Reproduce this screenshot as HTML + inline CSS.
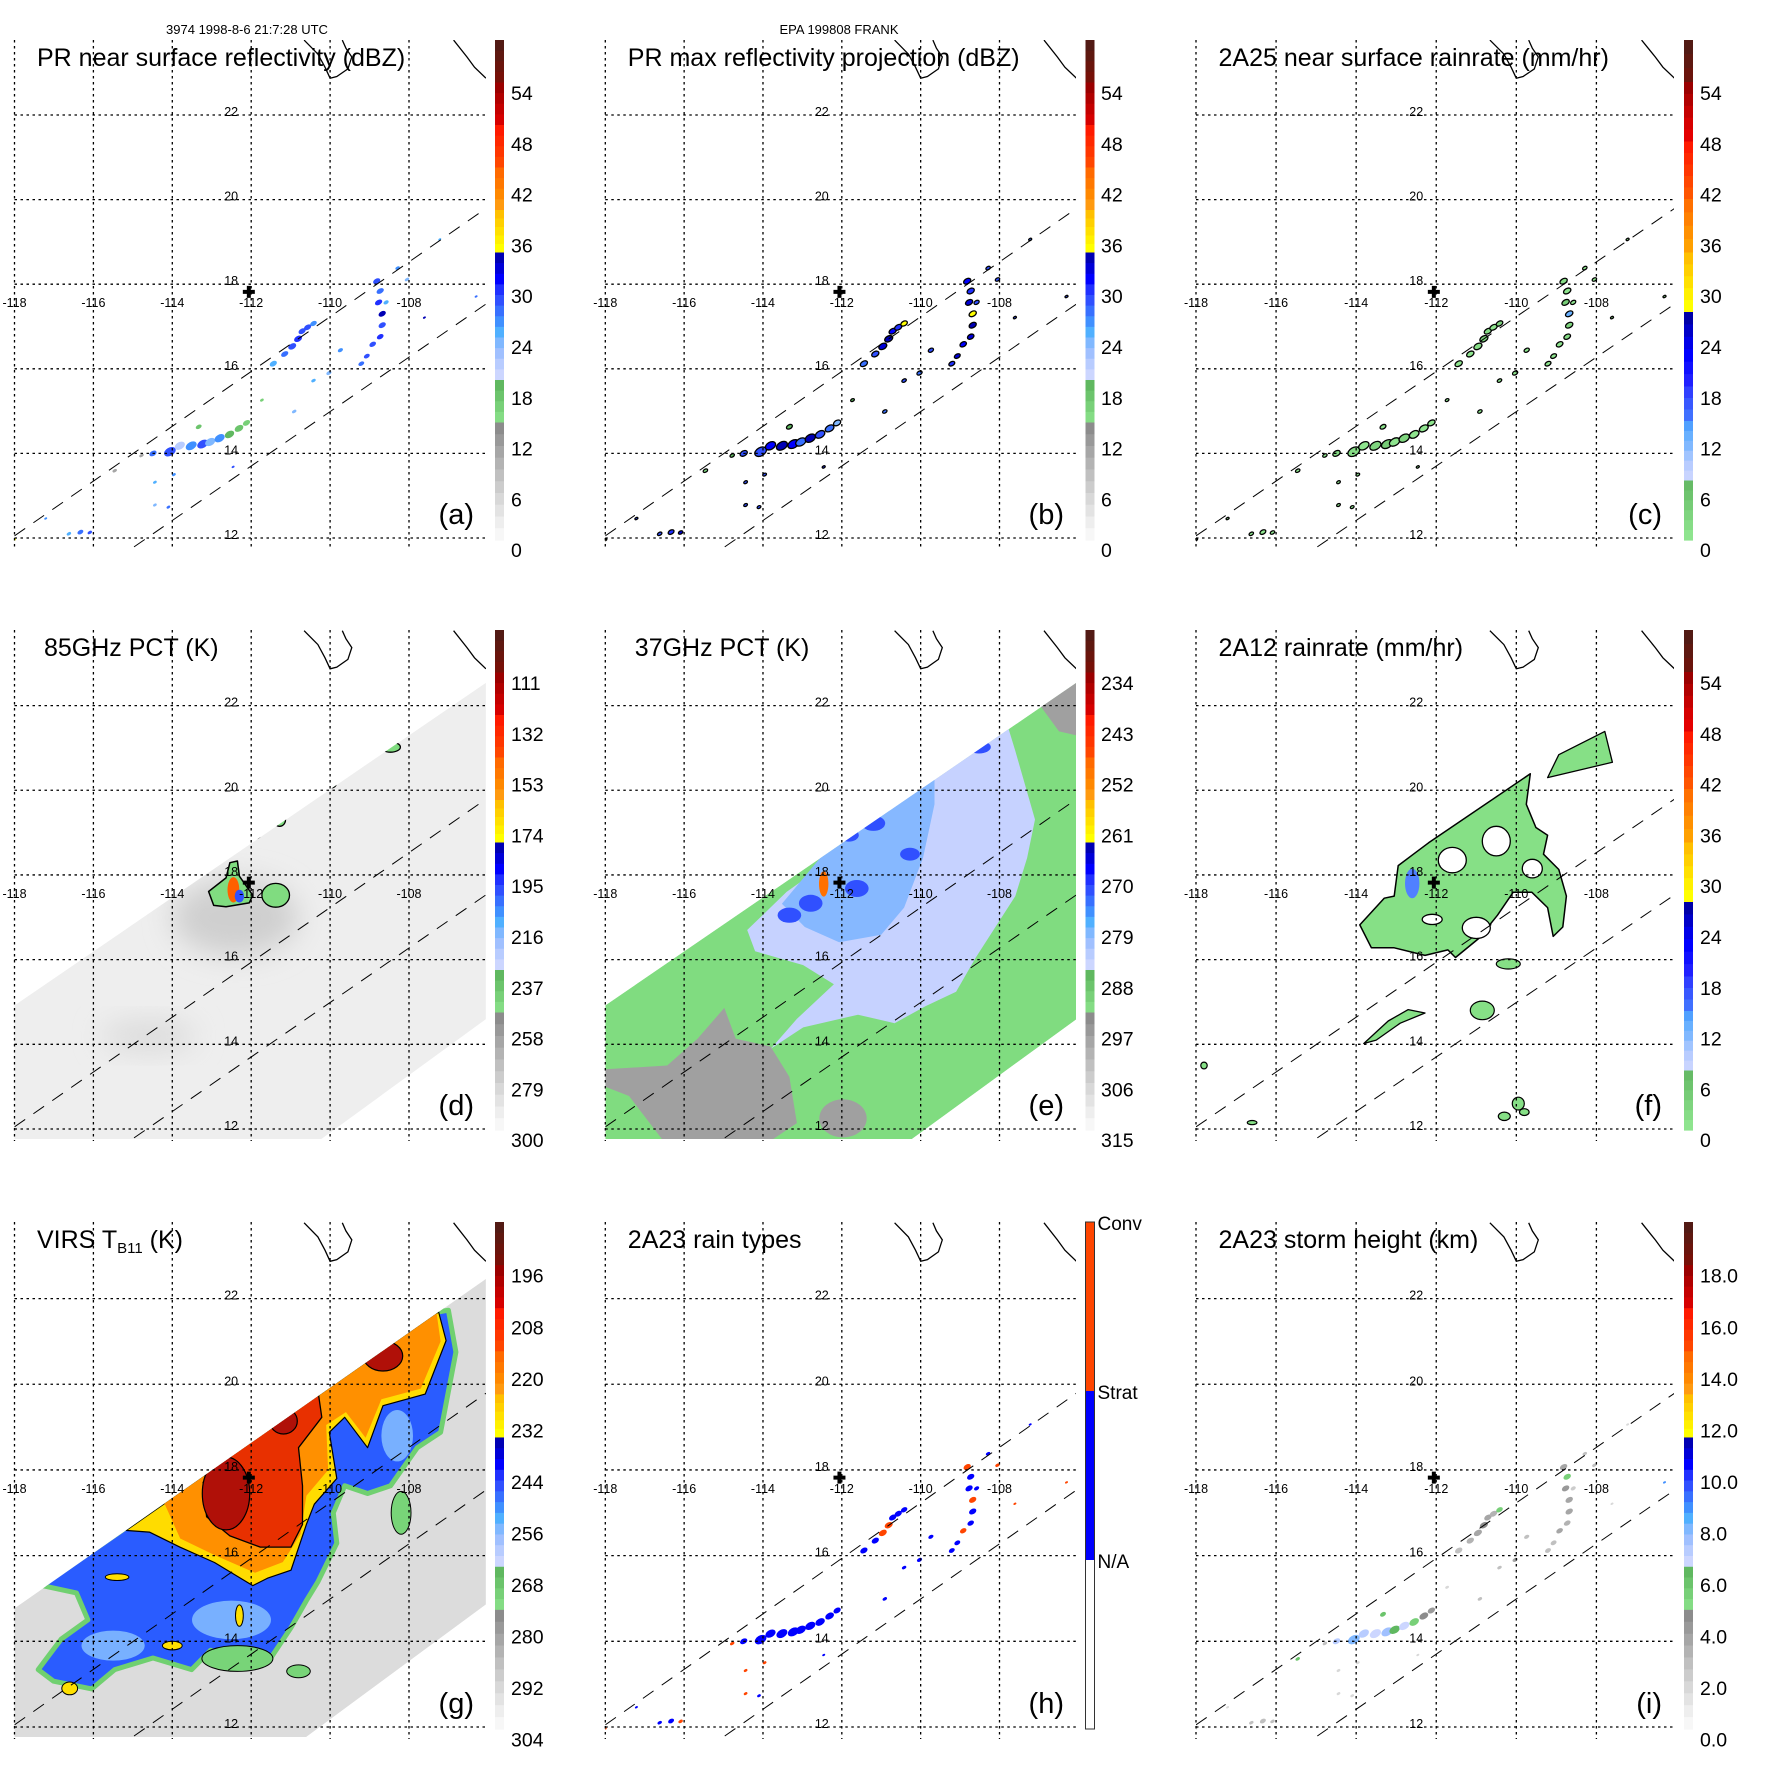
<!DOCTYPE html>
<html><head><meta charset="utf-8"><title>EPA 199808 FRANK</title>
<style>
html,body{margin:0;padding:0;background:#fff;}
svg{display:block;font-family:"Liberation Sans",Arial,sans-serif;}
</style></head>
<body>
<svg id="fig" xmlns="http://www.w3.org/2000/svg" width="1771" height="1771" viewBox="0 0 1771 1771">
<rect x="0" y="0" width="1771" height="1771" fill="#fff"/>
<defs><filter id="soft" x="-50%" y="-50%" width="200%" height="200%"><feGaussianBlur stdDeviation="14"/></filter></defs>
<text x="247" y="34" font-size="13" text-anchor="middle">3974 1998-8-6 21:7:28 UTC</text>
<text x="839" y="34" font-size="13" text-anchor="middle">EPA 199808 FRANK</text>
</svg>
<script>
// ---------- data ----------
const lonTicks=[-118,-116,-114,-112,-110,-108];
const latTicks=[12,14,16,18,20,22];
const dbzLabels=['54','48','42','36','30','24','18','12','6','0'];
const rainLabels=['54','48','42','36','30','24','18','12','6','0'];
const pct85Labels=['111','132','153','174','195','216','237','258','279','300'];
const pct37Labels=['234','243','252','261','270','279','288','297','306','315'];
const virsLabels=['196','208','220','232','244','256','268','280','292','304'];
const htLabels=['18.0','16.0','14.0','12.0','10.0','8.0','6.0','4.0','2.0','0.0'];
const typeLabels=['Conv','Strat','N/A'];

const cellLon=[-114.06,-113.81,-113.52,-113.23,-113.04,-112.80,-112.55,-112.31,-112.12,-114.49,-114.78,
-111.44,-111.15,-110.96,-110.81,-110.71,-110.57,-110.42,
-108.82,-108.73,-108.77,-108.68,-108.68,-108.73,-108.92,-109.07,-109.21,-108.58,
-108.05,-108.29,
-109.74,-110.03,-110.42,-110.91,
-112.46,-114.44,-114.44,-114.10,-113.96,
-116.33,-116.62,-116.09,-117.21,-118.0,
-107.22,-106.30,-107.61,
-115.46,-113.33,-111.73];
const cellLat=[14.04,14.18,14.18,14.22,14.27,14.36,14.45,14.59,14.72,14.0,13.95,
16.12,16.35,16.53,16.71,16.89,16.98,17.07,
18.07,17.84,17.57,17.30,17.03,16.76,16.58,16.30,16.12,17.57,
18.11,18.38,
16.44,15.90,15.72,14.99,
13.68,13.32,12.78,12.73,13.50,
12.14,12.10,12.13,12.46,11.96,
19.06,17.71,17.21,
13.59,14.63,15.26];
const cellSize=[0.16,0.14,0.15,0.15,0.14,0.14,0.13,0.12,0.1,0.1,0.06, 0.1,0.1,0.11,0.11,0.1,0.1,0.09, 0.1,0.1,0.1,0.1,0.1,0.09,0.09,0.08,0.08,0.07, 0.06,0.06, 0.07,0.07,0.06,0.06, 0.04,0.05,0.05,0.05,0.05, 0.08,0.06,0.06,0.04,0.04, 0.04,0.04,0.04, 0.06,0.08,0.05];
const reflNS=[30,22,27,30,24,27,20,18,17,28,12, 26,28,30,31,30,29,27, 30,28,31,34,30,31,30,29,28,26, 25,27, 27,24,26,25, 30,26,25,28,27, 28,26,30,27,36, 26,28,34, 12,18,17];
const reflMax=[30,32,34,32,28,35,30,28,24,30,20, 28,30,33,34,32,31,36, 32,31,33,36,34,33,32,33,31,30, 29,30, 29,28,29,28, 31,30,29,30,29, 31,30,33,30,36, 28,29,30, 16,20,19];
const rainPR=[3,2,4,5,2,4,1,1,1,3,0.5, 1,2,3,4,3,2,4, 3,2,5,14,4,3,2,2,1,1, 1,2, 2,1,1,1, 1,1,1,1,1, 1,1,1,1,2, 1,1,1, 0.5,1,0.5];
const rainType=[1,1,1,1,1,1,1,1,1,1,2, 1,1,2,2,1,1,1, 2,1,1,2,1,1,2,1,1,1, 2,1, 1,1,1,1, 1,2,2,1,2, 1,1,2,1,2, 1,2,2, 0,0,0];
const stormHt=[8,7.5,7,7.8,6.5,7,5.5,5,4.5,7.5,3, 3,3.5,4,5,4,3.5,5.5, 4,5.5,4.5,4,4,3.5,4,3,3,2.5, 3,3, 3,4,3,3, 2,2,2,2,2, 3,3,3,2,2, 2,9,2, 6,6,2];

const prEdgeA=[[-118,12.05],[-106.05,19.79]];
const prEdgeB=[[-114.97,11.79],[-106.05,17.53]];
const coastA=[[-110.66,23.77],[-110.31,23.44],[-110.13,23.13],[-110.0,22.87],[-109.83,22.91],[-109.55,23.09],[-109.45,23.37],[-109.60,23.58],[-109.69,23.77]];
const coastB=[[-106.87,23.77],[-106.53,23.37],[-106.34,23.13],[-106.05,22.87]];
const stormCenter=[-112.06,17.82];

const tmiSwath=[[-118,14.92],[-106.05,22.54],[-106.05,14.59],[-110.46,11.6],[-118,11.6]];
const virsSwath=[[-118,14.77],[-106.05,22.46],[-106.05,14.86],[-110.85,11.6],[-118,11.6]];

const dGreen=[[-113.08,17.61],[-112.64,17.93],[-112.54,18.29],[-112.35,18.33],[-112.3,17.97],[-111.96,17.52],[-112.05,17.34],[-112.64,17.25],[-112.95,17.28]];
const dSpots=[[-111.38,17.52,0.35,0.28],[-111.97,18.94,0.2,0.1],[-111.28,19.3,0.15,0.15],[-108.47,21.02,0.25,0.12],[-109.97,20.14,0.12,0.08]];

const eBluePale=[[-114.4,16.7],[-113.4,17.6],[-112.8,18.0],[-112.2,18.3],[-111.62,18.99],[-107.81,21.57],[-107.6,20.93],[-107.1,19.31],[-107.3,18.40],[-107.6,17.5],[-108.6,16.05],[-109.1,15.24],[-109.88,14.9],[-110.66,14.5],[-111.59,14.7],[-112.98,14.4],[-113.8,13.9],[-113.14,14.6],[-112.2,15.42],[-112.98,15.87],[-114.2,16.2]];
const eBlueMid=[[-113.52,17.32],[-112.07,18.94],[-110.62,19.67],[-109.65,20.30],[-109.65,19.67],[-109.94,18.4],[-110.42,17.23],[-111.0,16.59],[-112.07,16.41],[-112.94,16.77]];
const eBlueDark=[[-113.33,17.05,0.3,0.18],[-112.79,17.33,0.3,0.2],[-111.62,17.68,0.3,0.2],[-111.2,19.22,0.3,0.18],[-111.82,18.94,0.25,0.15],[-110.27,18.49,0.25,0.15],[-108.52,21.02,0.3,0.15],[-110.04,20.12,0.15,0.08]];
const eGreyA=[[-118,13.41],[-116.43,13.5],[-115.66,14.13],[-114.98,14.86],[-114.69,14.13],[-113.81,13.95],[-113.33,13.23],[-113.14,12.14],[-114.0,11.6],[-116.43,11.6],[-117.4,12.78],[-118,13.0]];
const eGreyB=[[-111.97,12.25,0.6,0.45]];
const eGreyC=[[-107.03,22.08],[-106.06,22.6],[-106.06,21.3],[-106.49,21.39]];
const eConv=[[-112.46,17.79,0.12,0.3]];

const fMain=[[-113.91,16.82],[-113.62,16.28],[-113.05,16.28],[-112.28,16.10],[-111.71,16.23],[-111.52,16.05],[-110.94,16.50],[-110.47,17.05],[-110.08,17.59],[-109.61,17.59],[-109.22,17.23],[-109.08,16.55],[-108.84,16.77],[-108.75,17.50],[-108.94,18.13],[-109.32,18.49],[-109.22,18.94],[-109.51,19.12],[-109.75,19.67],[-109.65,20.39],[-112.19,18.76],[-112.57,18.49],[-112.95,18.22],[-113.05,17.50],[-113.3,17.45]];
const fHoles=[[-111.6,18.35,0.35,0.3],[-110.5,18.8,0.35,0.35],[-111.0,16.75,0.35,0.25],[-109.6,18.15,0.25,0.22],[-112.1,16.95,0.25,0.12]];
const fNE=[[-108.94,20.84],[-107.79,21.39],[-107.6,20.66],[-109.22,20.30]];
const fBand=[[-113.81,14.02],[-113.5,14.1],[-112.9,14.5],[-112.28,14.74],[-112.7,14.82],[-113.2,14.55]];
const fSpots=[[-110.85,14.8,0.3,0.22],[-110.2,15.9,0.3,0.12],[-109.95,12.6,0.15,0.15],[-110.3,12.3,0.15,0.1],[-109.8,12.4,0.12,0.08],[-117.8,13.5,0.08,0.08],[-116.6,12.15,0.12,0.05]];
const fConv=[[-112.6,17.8,0.18,0.35]];

const gBlue=[[-117.3,15.30],[-107.25,21.69],[-107.0,21.73],[-106.81,20.75],[-107.2,18.88],[-107.79,18.52],[-108.47,17.63],[-109.05,17.45],[-109.63,17.63],[-109.92,17.0],[-109.83,16.29],[-110.31,15.39],[-110.6,14.95],[-110.99,14.32],[-111.57,13.52],[-112.35,13.61],[-113.03,13.79],[-113.51,13.34],[-114.49,13.61],[-115.46,13.34],[-116.04,12.89],[-117.01,13.07],[-117.40,13.34],[-116.82,14.05],[-116.14,14.5],[-116.43,15.13]];
const gYellow=[[-115.17,16.59],[-107.25,21.69],[-107.06,21.02],[-107.59,19.77],[-108.66,19.5],[-109.05,18.52],[-109.63,19.23],[-110.02,18.88],[-109.83,17.80],[-110.4,17.2],[-110.6,16.73],[-110.99,15.66],[-111.57,15.48],[-111.96,15.3],[-112.93,15.84],[-113.81,16.2],[-114.58,16.55]];
const gOrange=[[-114.2,17.22],[-107.3,21.66],[-107.2,21.0],[-107.7,19.9],[-108.7,19.65],[-109.1,18.75],[-109.6,19.35],[-110.1,19.05],[-110.05,18.0],[-110.6,17.4],[-110.75,16.5],[-111.2,15.85],[-111.9,15.6],[-112.9,16.0],[-113.8,16.4]];
const gRed=[[-113.22,17.71],[-112.64,18.43],[-111.57,18.96],[-110.99,19.41],[-110.31,19.86],[-110.21,19.23],[-110.8,18.52],[-110.7,17.63],[-110.7,16.73],[-110.99,16.2],[-111.77,16.2],[-112.54,16.46],[-113.13,16.91]];
const gDark=[[-112.64,17.45,0.6,0.85],[-111.18,19.14,0.35,0.3],[-108.66,20.66,0.5,0.35]];
const gPaleBlue=[[-112.5,14.5,1.0,0.45],[-115.5,13.9,0.8,0.35],[-108.3,18.8,0.4,0.6]];
const gGreen=[[-112.35,13.6,0.9,0.3],[-108.2,17.0,0.25,0.5],[-110.8,13.3,0.3,0.15]];
const gYellowSpots=[[-116.6,12.9,0.2,0.15],[-114.0,13.9,0.25,0.1],[-112.3,14.6,0.1,0.25],[-115.4,15.5,0.3,0.08]];

// ---------- geometry ----------
const COLS=[{L:14.5,R:409,right:486,cbx:495,labx:511},{L:605.3,R:999.5,right:1076,cbx:1085.5,labx:1101},{L:1196,R:1596.4,right:1674,cbx:1684,labx:1700}];
const ROWS=[{top:40,y22:115,y12:538,bottom:548,cbt:40,cbb:540},{top:630,y22:705.6,y12:1129,bottom:1139,cbt:630,cbb:1130},{top:1222,y22:1298.6,y12:1727,bottom:1737,cbt:1222,cbb:1729}];

const STD_BANDS=[
 [0,.085,['#521a14','#5e1810','#6a140c','#761008']],
 [.085,.17,['#9a0000','#b00000','#c40000','#d60000']],
 [.17,.255,['#ff1a00','#ff2800','#ff3600','#ff4600']],
 [.255,.34,['#ff6a00','#ff7800','#ff8800','#ff9a10']],
 [.34,.425,['#ffc000','#ffd000','#ffe000','#fff000','#ffff00']],
 [.425,.68,['#0000b4','#0000d8','#0000ff','#2030ff','#3050ff','#3870ff','#4090ff','#50b0ff','#80b8ff','#a0c0ff','#b8ccff','#ccd6ff']],
 [.68,.765,['#60b860','#6cc46c','#78d078','#84dc84']],
 [.765,1,['#8c8c8c','#999999','#a6a6a6','#b3b3b3','#c0c0c0','#cccccc','#d8d8d8','#e3e3e3','#eeeeee','#f7f7f7']]
];
const RAIN_BANDS=[
 [0,.084,['#521a14','#5e1810','#6a140c']],
 [.084,.203,['#9a0000','#b00000','#c40000','#d60000','#e40000']],
 [.203,.318,['#ff1a00','#ff2800','#ff3600','#ff4600','#ff5500']],
 [.318,.425,['#ff7000','#ff8000','#ff9000','#ffa000']],
 [.425,.544,['#ffc000','#ffd000','#ffe000','#fff000','#ffff00']],
 [.544,.693,['#0000a8','#0000c8','#0000e8','#0000ff','#1010ff','#2020ff']],
 [.693,.762,['#3040ff','#3858ff','#4070ff']],
 [.762,.881,['#50a0ff','#68b0ff','#80b8ff','#a0c4ff','#b8ccff','#c8d4ff']],
 [.881,1,['#66bb66','#6ec46e','#76cc76','#7ed47e','#86dc86','#8ee48e']]
];
const TYPE_BANDS=[[0,1/3,['#ff4500']],[1/3,2/3,['#0000ff']],[2/3,1,['#ffffff']]];

function colorAt(bands,f){
  f=Math.max(0,Math.min(0.9999,f));
  for(const b of bands){ if(f>=b[0]&&f<b[1]){const n=b[2].length;const k=Math.min(n-1,Math.floor((f-b[0])/(b[1]-b[0])*n));return b[2][k];} }
  return '#fff';
}
const dbzFrac=v=>1.02-v*0.01693;
const htFrac=v=>1.02-v*0.0508;

const svg=document.getElementById('fig');
const NS='http://www.w3.org/2000/svg';
function mk(tag,attrs,parent){const e=document.createElementNS(NS,tag);for(const k in attrs)e.setAttribute(k,attrs[k]);(parent||svg).appendChild(e);return e;}

function proj(c,r){
  const C=COLS[c],R=ROWS[r];
  const X=lon=>C.L+(lon+118)*(C.R-C.L)/10;
  const Y=lat=>R.y22+(22-lat)*(R.y12-R.y22)/10;
  return {X,Y,C,R,px:(C.R-C.L)/10,py:(R.y12-R.y22)/10};
}
function pts(p,arr){return arr.map(a=>p.X(a[0]).toFixed(1)+','+p.Y(a[1]).toFixed(1)).join(' ');}

const panels=[
 {id:'a',c:0,r:0,title:'PR near surface reflectivity (dBZ)',dx:22.5,kind:'refl',labels:dbzLabels,bands:STD_BANDS},
 {id:'b',c:1,r:0,title:'PR max reflectivity projection (dBZ)',dx:22.5,kind:'maxrefl',labels:dbzLabels,bands:STD_BANDS},
 {id:'c',c:2,r:0,title:'2A25 near surface rainrate (mm/hr)',dx:22.5,kind:'rain',labels:rainLabels,bands:RAIN_BANDS},
 {id:'d',c:0,r:1,title:'85GHz PCT (K)',dx:29.5,kind:'pct85',labels:pct85Labels,bands:STD_BANDS},
 {id:'e',c:1,r:1,title:'37GHz PCT (K)',dx:29.5,kind:'pct37',labels:pct37Labels,bands:STD_BANDS},
 {id:'f',c:2,r:1,title:'2A12 rainrate (mm/hr)',dx:22.5,kind:'tmirain',labels:rainLabels,bands:RAIN_BANDS},
 {id:'g',c:0,r:2,title:'VIRS',dx:22.5,kind:'virs',labels:virsLabels,bands:STD_BANDS},
 {id:'h',c:1,r:2,title:'2A23 rain types',dx:22.5,kind:'type',labels:typeLabels,bands:TYPE_BANDS},
 {id:'i',c:2,r:2,title:'2A23 storm height (km)',dx:22.5,kind:'height',labels:htLabels,bands:STD_BANDS}
];

function poly(parent,p,arr,fill,stroke,sw){
  return mk('polygon',{points:pts(p,arr),fill:fill,stroke:stroke||'none','stroke-width':sw||0,'stroke-linejoin':'round'},parent);
}
function ell(parent,p,a,fill,stroke,sw){
  return mk('ellipse',{cx:p.X(a[0]).toFixed(1),cy:p.Y(a[1]).toFixed(1),rx:(a[2]*p.px).toFixed(1),ry:(a[3]*p.py).toFixed(1),fill:fill,stroke:stroke||'none','stroke-width':sw||0},parent);
}

function drawCells(g,p,vals,colorFn,outline){
  for(let i=0;i<cellLon.length;i++){
    const v=vals[i]; if(!(v>0))continue;
    const e=mk('ellipse',{cx:p.X(cellLon[i]).toFixed(1),cy:p.Y(cellLat[i]).toFixed(1),rx:(cellSize[i]*p.px).toFixed(1),ry:(cellSize[i]*0.6*p.py).toFixed(1),fill:colorFn(v),stroke:outline?'#000':'none','stroke-width':outline?1.3:0,transform:'rotate(-30 '+p.X(cellLon[i]).toFixed(1)+' '+p.Y(cellLat[i]).toFixed(1)+')'},g);
    
    
  }
}

panels.forEach(P=>{
  const p=proj(P.c,P.r); const C=p.C,R=p.R;
  const pg=mk('g',{});
  
  
  const cp=mk('clipPath',{id:'clip-'+P.id},pg);
  mk('rect',{x:C.L,y:R.top,width:C.right-C.L,height:R.bottom-R.top},cp);
  const data=mk('g',{'clip-path':'url(#clip-'+P.id+')'},pg);
  
  

  let sw=null;
  if(P.kind==='pct85'||P.kind==='pct37'||P.kind==='virs'){
    const sp=mk('clipPath',{id:'swath-'+P.id},pg);
    mk('polygon',{points:pts(p,P.kind==='virs'?virsSwath:tmiSwath)},sp);
    sw=mk('g',{'clip-path':'url(#swath-'+P.id+')'},data);
    
    
  }

  if(P.kind==='refl'){
    drawCells(data,p,reflNS,v=>colorAt(STD_BANDS,dbzFrac(v)),false);
  } else if(P.kind==='maxrefl'){
    drawCells(data,p,reflMax,v=>colorAt(STD_BANDS,dbzFrac(v)),true);
  } else if(P.kind==='rain'){
    drawCells(data,p,rainPR,v=>colorAt(RAIN_BANDS,dbzFrac(v)),true);
  } else if(P.kind==='type'){
    drawCells(data,p,rainType,v=>v===2?'#ff4500':'#0000ff',false);
  } else if(P.kind==='height'){
    drawCells(data,p,stormHt,v=>colorAt(STD_BANDS,htFrac(v)),false);
  } else if(P.kind==='pct85'){
    const bg=poly(sw,p,tmiSwath,'#eeeeee');
    
    
    const sh=ell(sw,p,[-112.4,17.0,1.6,0.9],'#cfcfcf'); sh.setAttribute('filter','url(#soft)');
    
    
    const sh2=ell(sw,p,[-114.6,14.2,1.2,0.35],'#dadada'); sh2.setAttribute('filter','url(#soft)');
    
    
    const gr=poly(sw,p,dGreen,'#80dc80','#000',1.5);
    
    
    dSpots.forEach(a=>{const e=ell(sw,p,a,'#80dc80','#000',1.3);
      
      });
    const cv=ell(sw,p,[-112.45,17.65,0.15,0.3],'#ff6000');
    
    
    const cv2=ell(sw,p,[-112.3,17.5,0.12,0.15],'#3050ff');
    
    
  } else if(P.kind==='pct37'){
    const bg=poly(sw,p,tmiSwath,'#80dc80');
    
    
    const ga=poly(sw,p,eGreyA,'#a0a0a0');
    
    
    eGreyB.forEach(a=>{const e=ell(sw,p,a,'#a0a0a0');
      
      });
    const gc=poly(sw,p,eGreyC,'#a0a0a0');
    
    
    const bp=poly(sw,p,eBluePale,'#c6d2ff');
    
    
    const bm=poly(sw,p,eBlueMid,'#86b8ff');
    
    
    eBlueDark.forEach(a=>{const e=ell(sw,p,a,'#3050ff');
      
      });
    eConv.forEach(a=>{const e=ell(sw,p,a,'#ff7000');
      
      });
  } else if(P.kind==='tmirain'){
    const m=poly(data,p,fMain,'#86e086','#000',1.5);
    
    
    fHoles.forEach(a=>{const e=ell(data,p,a,'#ffffff','#000',1.3);
      
      });
    const ne=poly(data,p,fNE,'#86e086','#000',1.3);
    
    
    const bd=poly(data,p,fBand,'#86e086','#000',1.3);
    
    
    fSpots.forEach(a=>{const e=ell(data,p,a,'#86e086','#000',1.2);
      
      });
    fConv.forEach(a=>{const e=ell(data,p,a,'#5080ff');
      
      });
  } else if(P.kind==='virs'){
    const bg=poly(sw,p,virsSwath,'#dcdcdc');
    
    
    const bl=poly(sw,p,gBlue,'#2a5cff','#70d070',5);
    
    
    gPaleBlue.forEach(a=>{const e=ell(sw,p,a,'#78b0ff');
      
      });
    gGreen.forEach(a=>{const e=ell(sw,p,a,'#78d478','#000',1);
      
      });
    gYellowSpots.forEach(a=>{const e=ell(sw,p,a,'#ffe000','#000',1);
      
      });
    const ye=poly(sw,p,gYellow,'#ffdc00','#000',1.2);
    
    
    const or=poly(sw,p,gOrange,'#ff9000');
    
    
    const rd=poly(sw,p,gRed,'#e83000','#000',1.3);
    
    
    gDark.forEach(a=>{const e=ell(sw,p,a,'#b01008','#000',1.2);
      
      });
  }

  // grid
  lonTicks.forEach(lon=>{
    const l=mk('line',{x1:p.X(lon),x2:p.X(lon),y1:R.top,y2:R.bottom+2,stroke:'#000','stroke-width':1.3,'stroke-dasharray':'2.5,3.5'},pg);
    
    
    const t=mk('text',{x:p.X(lon),y:p.Y(18)+23,'font-size':12.5,'text-anchor':'middle'},pg);
    t.textContent=String(lon);
    
    
  });
  latTicks.forEach(lat=>{
    const l=mk('line',{x1:C.L,x2:C.right,y1:p.Y(lat),y2:p.Y(lat),stroke:'#000','stroke-width':1.3,'stroke-dasharray':'2.5,3.5'},pg);
    
    
    const t=mk('text',{x:p.X(-112)-20,y:p.Y(lat)+1,'font-size':12.5,'text-anchor':'middle'},pg);
    t.textContent=String(lat);
    
    
  });
  [prEdgeA,prEdgeB].forEach(e=>{
    const l=mk('line',{x1:p.X(e[0][0]),y1:p.Y(e[0][1]),x2:p.X(e[1][0]),y2:p.Y(e[1][1]),stroke:'#000','stroke-width':1,'stroke-dasharray':'13,10'},data);
    
    
  });
  [coastA,coastB].forEach(cst=>{
    const l=mk('polyline',{points:pts(p,cst),fill:'none',stroke:'#000','stroke-width':1.3},data);
    
    
  });
  const cx=p.X(stormCenter[0]),cy=p.Y(stormCenter[1]);
  const cr=mk('path',{d:`M${cx-6},${cy-2}h4v-4h4v4h4v4h-4v4h-4v-4h-4z`,fill:'#000'},pg);
  
  

  const tt=mk('text',{x:C.L+P.dx,y:R.top+26,'font-size':25},pg);
  
  
  if(P.kind==='virs'){
    tt.appendChild(document.createTextNode('VIRS T'));
    const s=mk('tspan',{'font-size':15,dy:5},tt); s.textContent='B11';
    const s2=mk('tspan',{dy:-5},tt); s2.textContent=' (K)';
  } else tt.textContent=P.title;
  const lt=mk('text',{x:C.right-12,y:R.y12-14,'font-size':29,'text-anchor':'end'},pg);
  lt.textContent='('+P.id+')';
  
  

  const cb=mk('g',{},pg);
  
  
  const H=R.cbb-R.cbt;
  P.bands.forEach(b=>{
    const n=b[2].length,h=(b[1]-b[0])*H/n;
    b[2].forEach((col,k)=>{
      const r=mk('rect',{x:C.cbx,y:(R.cbt+b[0]*H+k*h).toFixed(2),width:9,height:(h+0.6).toFixed(2),fill:col},cb);
      
      
    });
  });
  if(P.kind==='type'){
    const br=mk('rect',{x:C.cbx,y:R.cbt,width:9,height:H,fill:'none',stroke:'#333','stroke-width':1},cb);
    
    
    P.labels.forEach((lab,i)=>{
      const t=mk('text',{x:C.cbx+12,y:R.cbt+i*H/3+8,'font-size':19},cb);
      t.textContent=lab;
      
      
    });
  } else {
    P.labels.forEach((lab,i)=>{
      const y=R.cbt+H*(0.106+i*0.1016);
      const t=mk('text',{x:C.labx,y:y+7,'font-size':19.5},cb);
      t.textContent=lab;
      
      
    });
  }
});
</script>
</body></html>
